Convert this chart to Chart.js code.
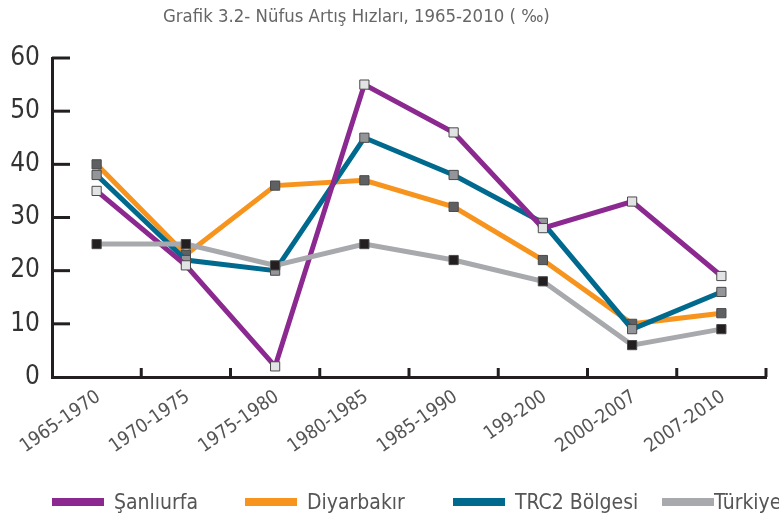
<!DOCTYPE html>
<html>
<head>
<meta charset="utf-8">
<script src="https://cdn.jsdelivr.net/npm/chart.js@4/dist/chart.umd.min.js"></script>
<style>
html,body{margin:0;padding:0;background:#fff;}
#wrap{position:relative;width:779px;height:522px;overflow:hidden;font-family:"Liberation Sans Narrow","DejaVu Sans Condensed",sans-serif;}
#c{position:absolute;left:0;top:0;}
#title{position:absolute;left:163px;top:5px;font-size:18.4px;color:#666;white-space:nowrap;}
.lg{position:absolute;top:490px;height:24px;display:flex;align-items:center;white-space:nowrap;font-size:21px;color:#555;}
.lg span.bar{display:inline-block;width:52px;height:8px;margin-right:10px;}
</style>
</head>
<body>
<div id="wrap">
<canvas id="c" width="779" height="522"></canvas>
<div id="title">Grafik 3.2- Nüfus Artış Hızları, 1965-2010 ( ‰)</div>
<div id="legend"></div>
</div>
<script>
const categories = ["1965-1970","1970-1975","1975-1980","1980-1985","1985-1990","199-200","2000-2007","2007-2010"];
const sanliurfa = [35, 21, 2, 55, 46, 28, 33, 19];
const diyarbakir = [40, 23, 36, 37, 32, 22, 10, 12];
const trc2 = [38, 22, 20, 45, 38, 29, 9, 16];
const turkiye = [25, 25, 21, 25, 22, 18, 6, 9];
const seriesNames = ["Şanlıurfa","Diyarbakır","TRC2 Bölgesi","Türkiye"];
const yTicks = [0,10,20,30,40,50,60];

const lineColors = ["#8B2990","#F7941E","#006A8E","#A7A9AC"];
const markerColors = ["#E2E3E4","#5F6062","#939598","#231F20"];
const legendX = [52,245,453,662];
const drawOrder = [1,3,2,0];
const values = [sanliurfa, diyarbakir, trc2, turkiye];

const datasets = seriesNames.map((n,i)=>({
  label:n, data:values[i], borderColor:lineColors[i], borderWidth:5,
  pointStyle:'rect', pointRadius:6.5, pointHoverRadius:6.5,
  pointBackgroundColor:markerColors[i], pointBorderColor:'#4a4a4a', pointBorderWidth:1,
  tension:0, fill:false, order:drawOrder[i]
}));

const lg = document.getElementById('legend');
seriesNames.forEach((n,i)=>{
  const d=document.createElement('div'); d.className='lg'; d.style.left=legendX[i]+'px';
  d.innerHTML='<span class="bar" style="background:'+lineColors[i]+'"></span>'+n;
  if(i===3) d.querySelector('.bar').style.marginRight='0px';
  lg.appendChild(d);
});

const tickPlugin = {
  id:'innerTicks',
  afterDraw(chart){
    const ctx=chart.ctx, x=chart.scales.x, y=chart.scales.y, a=chart.chartArea;
    ctx.save(); ctx.strokeStyle='#231F20'; ctx.lineWidth=3; ctx.lineCap='butt';
    yTicks.forEach(v=>{ if(v===0) return; const py=y.getPixelForValue(v);
      ctx.beginPath(); ctx.moveTo(a.left, py); ctx.lineTo(a.left+18, py); ctx.stroke(); });
    const half=(x.getPixelForValue(1)-x.getPixelForValue(0))/2;
    categories.forEach((c,i)=>{ const px=x.getPixelForValue(i)+half;
      ctx.beginPath(); ctx.moveTo(px, a.bottom); ctx.lineTo(px, a.bottom-9); ctx.stroke(); });
    ctx.restore();
  }
};

new Chart(document.getElementById('c'),{
  type:'line',
  data:{labels:categories, datasets},
  options:{
    responsive:false, animation:false, devicePixelRatio:1,
    layout:{padding:{top:58,right:13,bottom:20,left:0}},
    plugins:{legend:{display:false}, title:{display:false}, tooltip:{enabled:false}},
    scales:{
      x:{offset:true, grid:{display:false, offset:true, drawTicks:false},
         border:{display:true,color:'#231F20',width:3},
         afterFit(s){s.height=125;},
         ticks:{autoSkip:false, maxRotation:35, minRotation:35, padding:9, labelOffset:2,
           color:'#555', font:{family:'"Liberation Sans Narrow","DejaVu Sans Condensed",sans-serif', size:19}}},
      y:{min:0,max:60, grid:{display:false, drawTicks:false},
         border:{display:true,color:'#231F20',width:3},
         afterFit(s){s.width=52;},
         afterBuildTicks(s){s.ticks=yTicks.map(v=>({value:v}));},
         ticks:{padding:12, color:'#333', font:{family:'"Liberation Sans Narrow","DejaVu Sans Condensed",sans-serif', size:26}}}
    }
  },
  plugins:[tickPlugin]
});
</script>
</body>
</html>
